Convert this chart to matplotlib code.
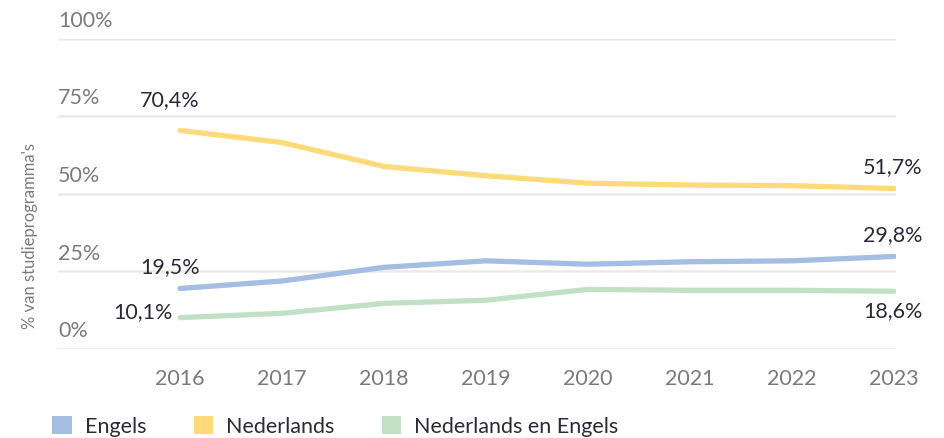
import numpy as np
import matplotlib.pyplot as plt
from matplotlib.patches import Patch

plt.rcParams['font.family'] = ['Lato', 'DejaVu Sans']

# data
years = [2016, 2017, 2018, 2019, 2020, 2021, 2022, 2023]
engels = [19.5, 21.9, 26.3, 28.4, 27.3, 28.1, 28.4, 29.8]
nederlands = [70.4, 66.5, 58.8, 55.8, 53.4, 52.8, 52.6, 51.7]
beide = [10.1, 11.5, 14.7, 15.7, 19.2, 18.9, 18.9, 18.6]
series_names = ['Engels', 'Nederlands', 'Nederlands en Engels']
y_ticks = [0, 25, 50, 75, 100]

colors = ['#a3bde3', '#ffda7a', '#c2e0c6']
grid_col = '#efe9e5'
tick_col = '#7a7a80'
text_col = '#2b2b38'
fs = 15.5

fig = plt.figure(figsize=(9.44, 4.39), dpi=100)
ax = fig.add_axes([58 / 944, 1 - 350 / 439, (896 - 58) / 944, (350 - 39.5) / 439])

ax.set_xlim(2016 - 122 / 102, 2023 + 2 / 102)
ax.set_ylim(0, 100)

for t in y_ticks:
    ax.axhline(t, color=grid_col, lw=1.8, zorder=0)
    ax.text(0, t + 2.8, f'{t}%', transform=ax.get_yaxis_transform(),
            ha='left', va='bottom', fontsize=fs, color=tick_col)

for vals, c in zip([engels, nederlands, beide], colors):
    ax.plot(years, vals, color=c, lw=3.8, solid_capstyle='round', zorder=3)

for s in ax.spines.values():
    s.set_visible(False)
ax.set_yticks([])
ax.set_xticks(years)
ax.set_xticklabels([str(y) for y in years])
ax.tick_params(axis='x', length=0, pad=14, labelsize=fs, labelcolor=tick_col)

# value labels at the ends
def fmt(v):
    return f'{v:.1f}%'.replace('.', ',')

ax.text(years[0] - 0.1, nederlands[0] + 7, fmt(nederlands[0]), ha='center', va='bottom',
        fontsize=fs, color=text_col)
ax.text(years[0] - 0.1, engels[0] + 4, fmt(engels[0]), ha='center', va='bottom',
        fontsize=fs, color=text_col)
ax.text(years[0] - 0.07, beide[0] + 2, fmt(beide[0]), ha='right', va='center',
        fontsize=fs, color=text_col)
ax.text(years[-1] + 0.28, nederlands[-1] + 4, fmt(nederlands[-1]), ha='right', va='bottom',
        fontsize=fs, color=text_col)
ax.text(years[-1] + 0.28, engels[-1] + 4, fmt(engels[-1]), ha='right', va='bottom',
        fontsize=fs, color=text_col)
ax.text(years[-1] + 0.28, beide[-1] - 3, fmt(beide[-1]), ha='right', va='top',
        fontsize=fs, color=text_col)

fig.text(30 / 944, 1 - 236 / 439, "% van studieprogramma's", rotation=90,
         ha='center', va='center', fontsize=12, color=tick_col)

handles = [Patch(facecolor=c, edgecolor='none') for c in colors]
fig.legend(handles, series_names, loc='lower left', bbox_to_anchor=(0.035, -0.04),
           ncol=3, frameon=False, fontsize=fs, labelcolor=text_col,
           handlelength=0.9, handleheight=0.9, handletextpad=0.6, columnspacing=2.2)

fig.savefig('out.png', dpi=100)
